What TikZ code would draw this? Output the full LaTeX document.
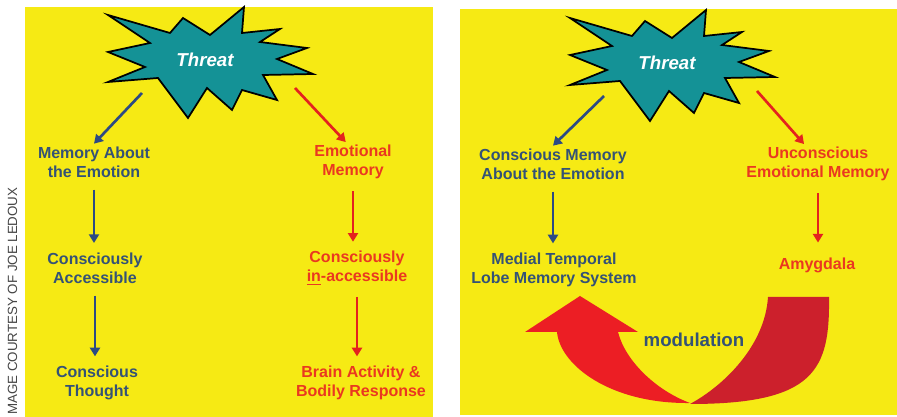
\documentclass[tikz,border=0pt]{standalone}
\usepackage{fontspec}
\setmainfont{Liberation Sans}
\usetikzlibrary{arrows.meta}
\definecolor{ledyellow}{RGB}{246,234,20}
\definecolor{ledteal}{RGB}{20,146,150}
\definecolor{ledblue}{RGB}{52,82,118}
\definecolor{ledbluearr}{RGB}{44,74,132}
\definecolor{ledred}{RGB}{234,56,32}
\definecolor{ledredarr}{RGB}{228,34,30}
\definecolor{ledbright}{RGB}{236,30,36}
\definecolor{leddark}{RGB}{204,32,44}
\definecolor{ledgray}{RGB}{70,70,70}

\begin{document}
\begin{tikzpicture}[x=7.5pt, y=7.5pt, >={Triangle[length=6.5pt,width=7.5pt]},
    lbl/.style={font=\fontsize{12}{14.3}\selectfont\bfseries, align=center, inner sep=2pt},
    bluetxt/.style={lbl, text=ledblue},
    redtxt/.style={lbl, text=ledred},
    bluearr/.style={->, line width=2pt, ledbluearr},
    redarr/.style={->, line width=2pt, ledredarr},
    downarr/.style={shorten <=7pt, shorten >=5pt},
    threatbox/.style={fill=ledteal, draw=black, line width=1.3pt, line join=miter},
    threattxt/.style={text=white, font=\fontsize{14}{16}\selectfont\bfseries\itshape}]

% --- fondo y paneles ---
\fill[white] (0,0) rectangle (89.7,41.7);
\useasboundingbox (0,0) rectangle (89.7,41.7);
\fill[ledyellow] (2.5,0) rectangle (43.3,41.0);
\fill[ledyellow] (46.0,0.2) rectangle (89.7,40.8);

\node[rotate=90, anchor=west, text=ledgray, inner sep=0pt,
      font=\fontsize{10}{12}\selectfont] (credit) at (1.25,0.2)
      {MAGE COURTESY OF JOE LEDOUX};

% --- estrellas Threat ---
\foreach \sx/\sy/\nm in {0/0/threatL, 46.2/-0.3/threatR} {
  \begin{scope}[shift={(\sx,\sy)}]
    \draw[threatbox] (10.8,40.2) -- (17.0,38.4) -- (18.3,39.9) -- (21.0,38.2)
      -- (24.4,41.0) -- (24.2,38.4) -- (28.0,38.8) -- (26.0,37.5) -- (30.7,36.9)
      -- (27.7,35.8) -- (31.3,34.3) -- (26.3,34.2) -- (27.7,31.7) -- (24.2,32.7)
      -- (23.2,30.7) -- (20.7,32.9) -- (18.8,29.9) -- (15.8,33.9) -- (10.8,33.5)
      -- (14.5,35.0) -- (10.8,36.5) -- (15.0,37.4) -- cycle;
    \node[threattxt] (\nm) at (20.5,35.7) {Threat};
    \coordinate (\nm a) at (14.2,32.4);
    \coordinate (\nm b) at (29.5,32.9);
  \end{scope}
}

% --- panel izquierdo ---
\node[bluetxt] (memL) at (9.4,25.5) {Memory About\\the Emotion};
\node[bluetxt] (accL) at (9.5,14.9) {Consciously\\Accessible};
\node[bluetxt] (thoughtL) at (9.7,3.4) {Conscious\\Thought};
\node[redtxt] (emoL) at (35.3,25.5) {Emotional\\Memory};
\node[redtxt] (inaccL) at (35.7,14.9) {Consciously\\\underline{in}-accessible};
\node[redtxt] (brainL) at (36.1,3.4) {Brain Activity \&\\Bodily Response};

\draw[bluearr] (threatLa) -- (memL.north);
\draw[redarr] (threatLb) -- (emoL.110);
\draw[bluearr, downarr] (memL.south) -- (memL.south |- accL.north);
\draw[bluearr, downarr] (accL.south) -- (accL.south |- thoughtL.north);
\draw[redarr, downarr] (emoL.south) -- (emoL.south |- inaccL.north);
\draw[redarr, downarr] (inaccL.south) -- (inaccL.south |- brainL.north);

% --- panel derecho ---
\node[bluetxt] (memR) at (55.3,25.3) {Conscious Memory\\About the Emotion};
\node[redtxt] (emoR) at (81.8,25.3) {Unconscious\\Emotional Memory};
\node[bluetxt] (mtl) at (55.4,14.7) {Medial Temporal\\Lobe Memory System};
\node[redtxt] (amyg) at (81.7,15.2) {Amygdala};

\draw[bluearr] (threatRa) -- (memR.north);
\draw[redarr] (threatRb) -- (emoR.125);
\draw[bluearr, downarr] (memR.south) -- (memR.south |- mtl.north);
\draw[redarr, shorten <=7pt, shorten >=9pt] (emoR.south) -- (emoR.south |- amyg.north);

% flecha curva de modulacion
\fill[leddark] (76.8,12.0) -- (82.9,12.0) .. controls (83.0,4.7) and (81.5,1.3) .. (69.0,1.3)
  .. controls (72.5,3.2) and (76.5,7.2) .. (76.8,12.0) -- cycle;
\fill[ledbright] (58.0,12.1) -- (63.8,8.5) -- (61.8,8.5) .. controls (62.5,5.7) and (65.5,2.7) .. (69.0,1.4)
  .. controls (61.0,1.3) and (56.0,5.2) .. (55.7,8.5) -- (52.5,8.5) -- cycle;
\node[text=ledblue, font=\fontsize{14}{16}\selectfont\bfseries] (modul) at (69.4,7.7) {modulation};

\end{tikzpicture}
\end{document}
